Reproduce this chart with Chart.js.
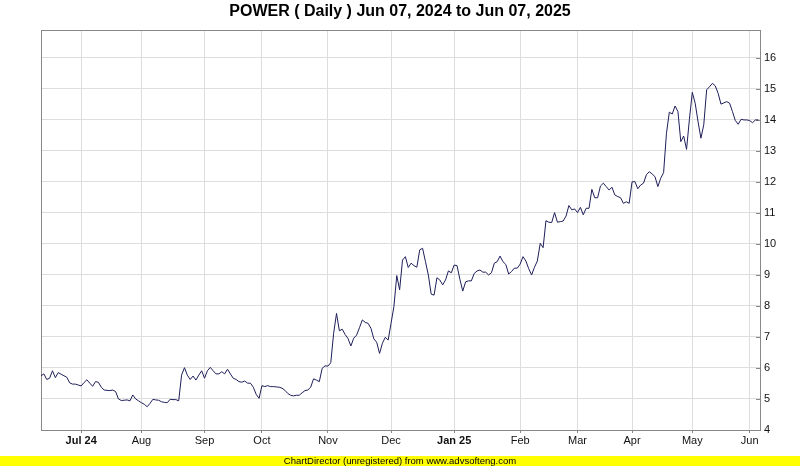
<!DOCTYPE html>
<html><head><meta charset="utf-8">
<script src="https://cdn.jsdelivr.net/npm/chart.js@4.4.1/dist/chart.umd.min.js"></script>
<style>html,body{margin:0;padding:0;background:#fff;}#wrap{width:800px;height:466px;}</style>
</head><body><div id="wrap"><canvas id="c" width="800" height="466"></canvas></div>
<script>
const chartTitle = 'POWER ( Daily ) Jun 07, 2024 to Jun 07, 2025';
const footerText = 'ChartDirector (unregistered) from www.advsofteng.com';

// daily closes, one per trading day, Jun 07 2024 .. Jun 2025
const closePrices = [
  5.75, 5.81, 5.63, 5.67, 5.91, 5.69, 5.85, 5.80, 5.75, 5.70,
  5.52, 5.48, 5.48, 5.45, 5.42, 5.53, 5.62, 5.51, 5.41, 5.56,
  5.54, 5.38, 5.29, 5.28, 5.27, 5.29, 5.24, 5.00, 4.95, 4.96,
  4.97, 4.94, 5.13, 5.00, 4.94, 4.88, 4.83, 4.75, 4.86, 4.99,
  4.97, 4.96, 4.91, 4.89, 4.88, 4.99, 4.98, 4.98, 4.94, 5.77,
  6.01, 5.77, 5.63, 5.74, 5.61, 5.77, 5.91, 5.67, 5.91, 6.02,
  5.91, 5.81, 5.81, 5.88, 5.81, 5.96, 5.81, 5.67, 5.63, 5.56,
  5.54, 5.58, 5.51, 5.51, 5.38, 5.15, 5.02, 5.43, 5.40, 5.43,
  5.40, 5.40, 5.39, 5.38, 5.35, 5.28, 5.18, 5.12, 5.10, 5.12,
  5.12, 5.20, 5.27, 5.29, 5.38, 5.65, 5.61, 5.56, 5.99, 6.07,
  6.06, 6.17, 7.12, 7.76, 7.20, 7.25, 7.08, 6.95, 6.71, 6.96,
  7.06, 7.30, 7.55, 7.47, 7.44, 7.28, 6.94, 6.83, 6.47, 6.80,
  6.99, 6.90, 7.44, 7.98, 8.98, 8.52, 9.48, 9.59, 9.24, 9.38,
  9.30, 9.25, 9.81, 9.86, 9.43, 9.00, 8.38, 8.35, 8.91, 8.84,
  8.68, 8.84, 9.13, 9.07, 9.32, 9.30, 8.86, 8.48, 8.78, 8.81,
  8.81, 9.05, 9.13, 9.16, 9.09, 9.09, 9.00, 9.07, 9.38, 9.43,
  9.61, 9.43, 9.34, 9.03, 9.11, 9.22, 9.22, 9.35, 9.59, 9.45,
  9.20, 9.00, 9.25, 9.45, 10.02, 9.88, 10.75, 10.70, 10.69, 11.01,
  10.70, 10.72, 10.74, 10.90, 11.24, 11.10, 11.13, 11.01, 11.18, 10.94,
  11.15, 11.15, 11.76, 11.49, 11.49, 11.87, 11.96, 11.85, 11.74, 11.83,
  11.58, 11.53, 11.49, 11.31, 11.36, 11.31, 12.00, 12.01, 11.78, 11.90,
  11.96, 12.23, 12.33, 12.26, 12.17, 11.85, 12.12, 12.30, 13.57, 14.25,
  14.19, 14.45, 14.27, 13.30, 13.48, 13.05, 14.02, 14.89, 14.54, 13.95,
  13.41, 13.84, 14.97, 15.07, 15.18, 15.10, 14.86, 14.51, 14.55, 14.59,
  14.54, 14.27, 13.98, 13.86, 14.02, 14.00, 14.00, 13.98, 13.91, 14.00,
  14.00
];

// trading-day index of the first session of each labelled month
const monthTickIndex = [14, 35, 57, 77, 100, 122, 144, 167, 187, 206, 227, 247];
const monthTickLabels = ['Jul 24', 'Aug', 'Sep', 'Oct', 'Nov', 'Dec', 'Jan 25', 'Feb', 'Mar', 'Apr', 'May', 'Jun'];
const boldTickLabels = ['Jul 24', 'Jan 25'];
const priceTicks = [4, 5, 6, 7, 8, 9, 10, 11, 12, 13, 14, 15, 16];

const FONT = '"Liberation Sans", Arial, sans-serif';
const labelFor = v => { const k = monthTickIndex.indexOf(v); return k >= 0 ? monthTickLabels[k] : ''; };

const decor = {
  id: 'decor',
  beforeDatasetsDraw(chart) {
    const { ctx, chartArea: a } = chart;
    const ys = chart.scales.y;
    ctx.save();
    ctx.strokeStyle = '#888888';
    ctx.lineWidth = 1;
    ctx.strokeRect(Math.round(a.left) + 0.5, Math.round(a.top) + 0.5,
                   Math.round(a.right - a.left), Math.round(a.bottom - a.top));
    ctx.beginPath();
    priceTicks.forEach(v => {
      const y = Math.round(ys.getPixelForValue(v)) + 0.5;
      ctx.moveTo(a.right - 4, y);
      ctx.lineTo(a.right, y);
    });
    ctx.stroke();
    ctx.restore();
  },
  afterDraw(chart) {
    const { ctx, width, height } = chart;
    ctx.save();
    ctx.fillStyle = '#000000';
    ctx.font = 'bold 16px ' + FONT;
    ctx.textAlign = 'center';
    ctx.textBaseline = 'middle';
    ctx.fillText(chartTitle, width / 2, 12);
    ctx.fillStyle = '#ffff00';
    ctx.fillRect(0, height - 10, width, 10);
    ctx.fillStyle = '#000000';
    ctx.font = '9.5px ' + FONT;
    ctx.fillText(footerText, width / 2, height - 5);
    ctx.restore();
  }
};

new Chart(document.getElementById('c'), {
  type: 'line',
  data: {
    datasets: [{
      data: closePrices.map((v, i) => ({ x: i, y: v })),
      borderColor: '#1e1e5a',
      borderWidth: 1,
      pointRadius: 0,
      tension: 0,
      fill: false
    }]
  },
  options: {
    responsive: false,
    animation: false,
    devicePixelRatio: 1,
    layout: { padding: { left: 41, top: 30, right: 0, bottom: 10 } },
    plugins: { legend: { display: false }, title: { display: false }, tooltip: { enabled: false } },
    scales: {
      x: {
        type: 'linear',
        min: 0,
        max: 250.6,
        afterBuildTicks: s => { s.ticks = monthTickIndex.map(v => ({ value: v })); },
        afterFit: s => { s.height = 26; },
        grid: { color: '#dddddd', drawTicks: true, tickLength: 3, tickColor: '#888888' },
        border: { display: false },
        ticks: {
          autoSkip: false, maxRotation: 0, padding: 1, color: '#111111',
          callback: v => labelFor(v),
          font: c => ({ family: FONT, size: 11, weight: (c.tick && boldTickLabels.includes(labelFor(c.tick.value))) ? 'bold' : 'normal' })
        }
      },
      y: {
        position: 'right',
        min: 4,
        max: 16.9,
        afterBuildTicks: s => { s.ticks = priceTicks.map(v => ({ value: v })); },
        afterFit: s => { s.width = 40; },
        grid: { color: '#dddddd', drawTicks: false },
        border: { display: false },
        ticks: { padding: 4, color: '#111111', font: { family: FONT, size: 11 } }
      }
    }
  },
  plugins: [decor]
});
</script>
</body></html>
